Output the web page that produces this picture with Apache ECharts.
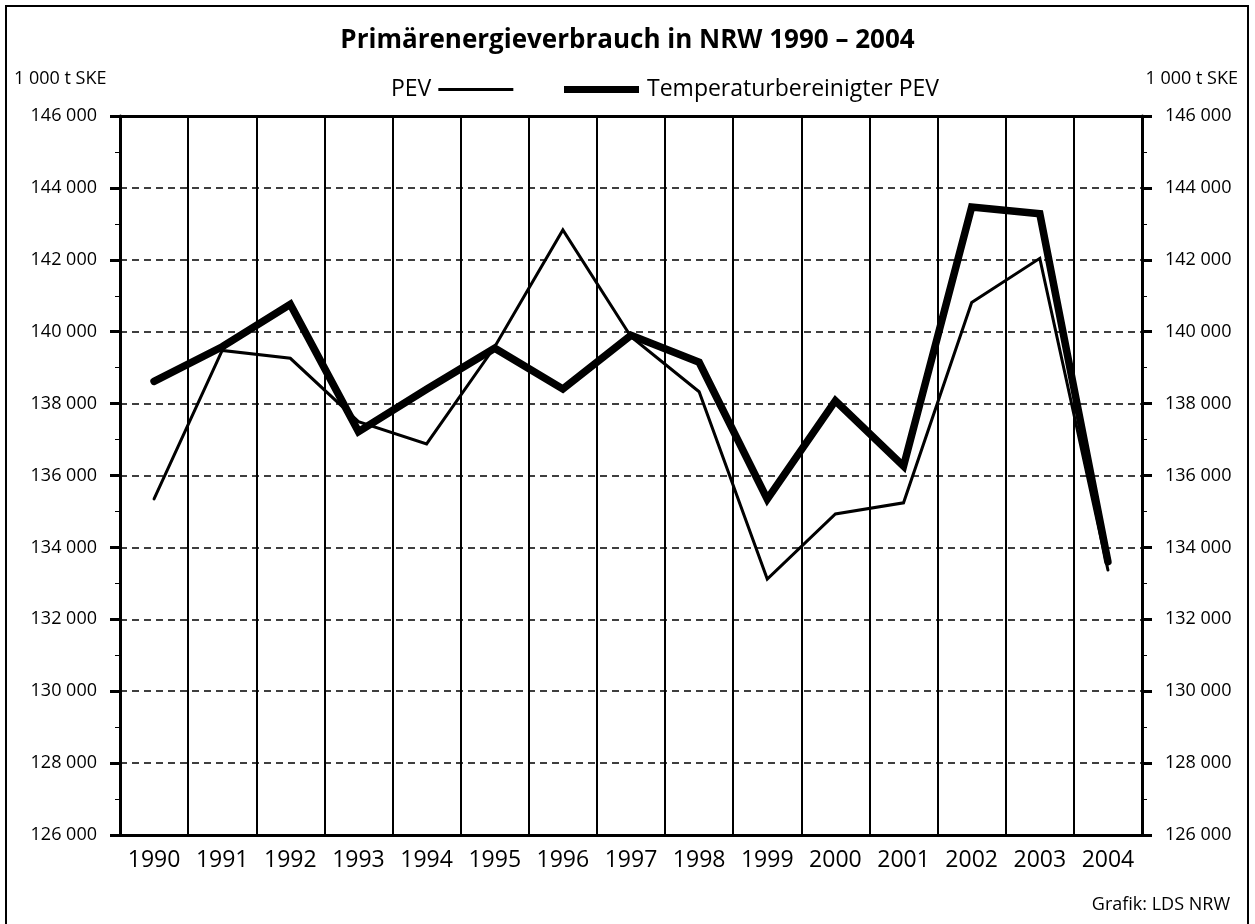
<!DOCTYPE html>
<html>
<head>
<meta charset="utf-8">
<script src="https://cdn.jsdelivr.net/npm/echarts@6/dist/echarts.min.js"></script>
<style>
  html, body { margin: 0; padding: 0; background: #fff; }
  #chart { width: 1255px; height: 924px; }
</style>
</head>
<body>
<div id="chart"></div>
<script>
// Jahre
var years = ['1990', '1991', '1992', '1993', '1994', '1995', '1996', '1997',
  '1998', '1999', '2000', '2001', '2002', '2003', '2004']
// PEV in 1 000 t SKE
var pev = [135350, 139480, 139260, 137500, 136880, 139580, 142830, 139860,
  138330, 133120, 134930, 135240, 140810, 142040, 133370]
// temperaturbereinigter PEV
var pevTemp = [138620, 139580, 140760, 137220, 138400, 139540, 138410, 139900,
  139150, 135340, 138080, 136260, 143470, 143280, 133600]

var yMin = 126000
var yMax = 146000
var yStep = 2000

var font = '"Open Sans", "Noto Sans", sans-serif'

function fmt (v) {
  return String(v).replace(/\B(?=(\d{3})+(?!\d))/g, ' ')
}

var chart = echarts.init(document.getElementById('chart'))

var yAxisBase = {
  type: 'value',
  min: yMin,
  max: yMax,
  interval: yStep,
  axisLine: { show: true, lineStyle: { color: '#000', width: 3 } },
  axisTick: { show: true, inside: false, length: 10, lineStyle: { color: '#000', width: 3 } },
  minorTick: { show: true, splitNumber: 2, length: 5, lineStyle: { color: '#000', width: 1 } },
  axisLabel: {
    color: '#000',
    fontFamily: font,
    fontSize: 18,
    margin: 23,
    formatter: fmt
  }
}

chart.setOption({
  backgroundColor: '#fff',
  animation: false,
  title: {
    text: 'Primärenergieverbrauch in NRW 1990 – 2004',
    left: 'center',
    top: 23,
    textStyle: {
      color: '#000',
      fontFamily: font,
      fontWeight: 'bold',
      fontSize: 26
    }
  },
  legend: [
    {
      data: ['PEV'],
      left: 386,
      top: 73,
      align: 'right',
      icon: 'rect',
      itemWidth: 75,
      itemHeight: 3,
      itemGap: 0,
      textStyle: { color: '#000', fontFamily: font, fontSize: 23, padding: [0, 2, 0, 0] }
    },
    {
      data: ['Temperaturbereinigter PEV'],
      left: 559,
      top: 73,
      align: 'left',
      icon: 'rect',
      itemWidth: 75,
      itemHeight: 7,
      textStyle: { color: '#000', fontFamily: font, fontSize: 23, padding: [0, 0, 0, 3] }
    }
  ],
  grid: {
    left: 120,
    right: 113,
    top: 116,
    bottom: 89
  },
  xAxis: [
    {
      type: 'category',
      data: years,
      boundaryGap: true,
      axisLine: { show: true, lineStyle: { color: '#000', width: 3 } },
      axisTick: { show: false },
      splitLine: { show: true, interval: 0, lineStyle: { color: '#000', width: 2 } },
      axisLabel: { color: '#000', fontFamily: font, fontSize: 23, margin: 14, interval: 0 }
    },
    {
      type: 'category',
      data: years,
      position: 'top',
      axisLine: { show: true, lineStyle: { color: '#000', width: 3 } },
      axisTick: { show: false },
      axisLabel: { show: false },
      splitLine: { show: false }
    }
  ],
  yAxis: [
    Object.assign({}, yAxisBase, {
      position: 'left',
      splitLine: { show: true, lineStyle: { color: '#000', width: 1.5, type: [7, 5] } }
    }),
    Object.assign({}, yAxisBase, {
      position: 'right',
      splitLine: { show: false }
    })
  ],
  graphic: [
    {
      type: 'polyline',
      shape: { points: [[6, 930], [6, 6], [1248, 6], [1248, 930]] },
      style: { stroke: '#000', lineWidth: 2, fill: null }
    },
    {
      type: 'text',
      left: 14,
      top: 70,
      style: { text: '1 000 t SKE', fill: '#000', font: '18px ' + font }
    },
    {
      type: 'text',
      right: 17,
      top: 70,
      style: { text: '1 000 t SKE', fill: '#000', font: '18px ' + font }
    },
    {
      type: 'text',
      right: 25,
      top: 896,
      style: { text: 'Grafik: LDS NRW', fill: '#000', font: '18px ' + font }
    }
  ],
  series: [
    {
      name: 'PEV',
      type: 'line',
      data: pev,
      showSymbol: false,
      symbol: 'none',
      itemStyle: { color: '#000' },
      lineStyle: { color: '#000', width: 3, cap: 'round', join: 'miter' }
    },
    {
      name: 'Temperaturbereinigter PEV',
      type: 'line',
      data: pevTemp,
      showSymbol: false,
      symbol: 'none',
      itemStyle: { color: '#000' },
      lineStyle: { color: '#000', width: 7.5, cap: 'round', join: 'miter' }
    }
  ]
})
</script>
</body>
</html>
